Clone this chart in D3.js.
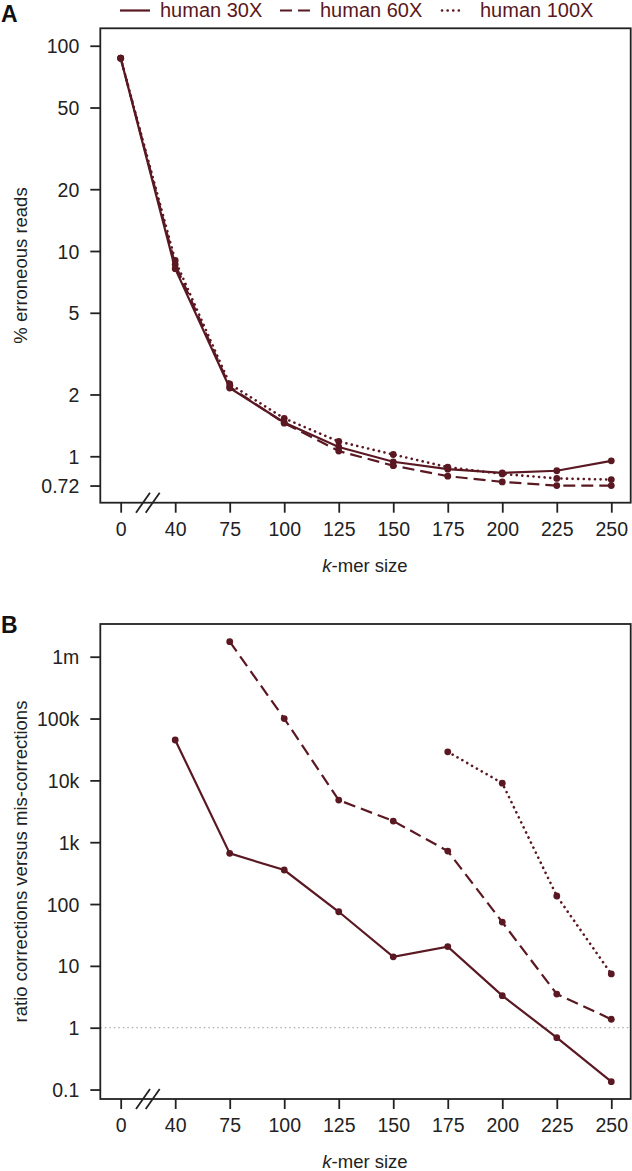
<!DOCTYPE html>
<html><head><meta charset="utf-8">
<script src="https://cdn.jsdelivr.net/npm/d3@7/dist/d3.min.js"></script>
<style>
body{margin:0;background:#fff;}
svg text{font-family:"Liberation Sans",Arial,Helvetica,sans-serif;}
</style></head>
<body><svg id="c" width="632" height="1171"></svg>
<script>
// ---- data ----
const kLabels = ["0","40","75","100","125","150","175","200","225","250"];
const seriesNames = ["human 30X","human 60X","human 100X"];
const errA30  = [87, 8.2, 2.15, 1.46, 1.11, 0.94, 0.865, 0.83, 0.85, 0.95];
const errA60  = [87, 8.6, 2.18, 1.45, 1.06, 0.90, 0.80, 0.75, 0.72, 0.72];
const errA100 = [87, 9.0, 2.25, 1.53, 1.18, 1.02, 0.885, 0.82, 0.78, 0.77];
const ratio30  = [null, 45000, 660, 355, 75, 14, 20.5, 3.3, 0.69, 0.134];
const ratio60  = [null, null, 1750000, 100000, 4800, 2200, 720, 51, 3.5, 1.37];
const ratio100 = [null, null, null, null, null, null, 29000, 9000, 135, 7.4];
const ticksA = [0.72, 1, 2, 5, 10, 20, 50, 100];
const ticksALabels = ["0.72","1","2","5","10","20","50","100"];
const ticksB = [0.1, 1, 10, 100, 1e3, 1e4, 1e5, 1e6];
const ticksBLabels = ["0.1","1","10","100","1k","10k","100k","1m"];

const col = "#5a1822";
const dashes = [null, "12,6", "0.1,5.5"];
const svg = d3.select("#c");

const x = d3.scaleLinear().domain([-0.374, 9.356]).range([100.3, 630.7]);

function panel(opts){
  const {y, top, bottom, series, ticks, tickLabels, title, letter, letterY, refLine} = opts;
  const g = svg.append("g");
  if (refLine){
    g.append("line").attr("x1", x.range()[0]).attr("x2", x.range()[1])
      .attr("y1", y(1)).attr("y2", y(1))
      .attr("stroke","#9a9a9a").attr("stroke-width",1).attr("stroke-dasharray","1.5,3");
  }
  series.forEach((vals, si) => {
    const pts = vals.map((v,i)=>({i, v})).filter(d=>d.v!=null);
    const line = d3.line().x(d=>x(d.i)).y(d=>y(d.v));
    g.append("path").attr("d", line(pts)).attr("fill","none")
      .attr("stroke", col).attr("stroke-width", si===2 ? 2.6 : 2.2)
      .attr("stroke-linecap", si===2 ? "round" : "butt")
      .attr("stroke-dasharray", dashes[si]);
    g.selectAll(null).data(pts).enter().append("circle")
      .attr("cx", d=>x(d.i)).attr("cy", d=>y(d.v)).attr("r", 3.4).attr("fill", col);
  });
  g.append("rect").attr("x", x.range()[0]).attr("y", top)
    .attr("width", x.range()[1]-x.range()[0]).attr("height", bottom-top)
    .attr("fill","none").attr("stroke","#222").attr("stroke-width",1.8);
  const ya = d3.axisLeft(y).tickValues(ticks).tickFormat((d,i)=>tickLabels[i]).tickSize(10).tickPadding(11);
  const yg = g.append("g").attr("transform",`translate(${x.range()[0]},0)`).call(ya);
  yg.select(".domain").remove();
  yg.selectAll(".tick line").attr("stroke","#222").attr("stroke-width",1.8);
  yg.selectAll(".tick text").attr("fill","#222").style("font-size","19.5px").attr("dy","0.36em");
  const xa = d3.axisBottom(x).tickValues(d3.range(kLabels.length)).tickFormat(i=>kLabels[i]).tickSize(10).tickPadding(9);
  const xg = g.append("g").attr("transform",`translate(0,${bottom})`).call(xa);
  xg.select(".domain").remove();
  xg.selectAll(".tick line").attr("stroke","#222").attr("stroke-width",1.8);
  xg.selectAll(".tick text").attr("fill","#222").style("font-size","19.5px");
  [0, 9.7].forEach(dx => {
    g.append("line").attr("x1", 136+dx).attr("y1", bottom+10).attr("x2", 150+dx).attr("y2", bottom-10)
      .attr("stroke","#222").attr("stroke-width",1.8);
  });
  const xt = g.append("text").attr("x", 365).attr("y", bottom+69).attr("text-anchor","middle")
    .attr("fill","#222").style("font-size","18.5px");
  xt.append("tspan").style("font-style","italic").text("k");
  xt.append("tspan").text("-mer size");
  g.append("text").attr("transform",`translate(27,${(top+bottom)/2}) rotate(-90)`)
    .attr("text-anchor","middle").attr("fill","#222").style("font-size","18.5px").text(title);
  g.append("text").attr("x", 1).attr("y", letterY).attr("fill","#111")
    .style("font-size","23px").style("font-weight","bold").text(letter);
}

const yA = d3.scaleLog().domain([0.594, 121.6]).range([502.7, 28.3]);
panel({y: yA, top: 28.3, bottom: 502.7, series: [errA30, errA60, errA100],
  ticks: ticksA, tickLabels: ticksALabels, title: "% erroneous reads", letter: "A", letterY: 22});

const yB = d3.scaleLog().domain([0.0703, 3.38e6]).range([1099, 624]);
panel({y: yB, top: 624, bottom: 1099, series: [ratio30, ratio60, ratio100],
  ticks: ticksB, tickLabels: ticksBLabels, title: "ratio corrections versus mis-corrections", letter: "B", letterY: 633, refLine: true});

// legend
const legX = [120, 280, 442];
const legW = [30, 30, 18];
const lg = svg.append("g");
seriesNames.forEach((name, i) => {
  lg.append("line").attr("x1", legX[i]).attr("x2", legX[i]+legW[i]).attr("y1", 10.5).attr("y2", 10.5)
    .attr("stroke", col).attr("stroke-width", i===2 ? 2.6 : 2.2)
    .attr("stroke-linecap", i===2 ? "round" : "butt")
    .attr("stroke-dasharray", dashes[i]);
  lg.append("text").attr("x", legX[i]+legW[i]+ (i===2?20:10)).attr("y", 17)
    .attr("fill", col).style("font-size","20px").text(name);
});
</script></body></html>
